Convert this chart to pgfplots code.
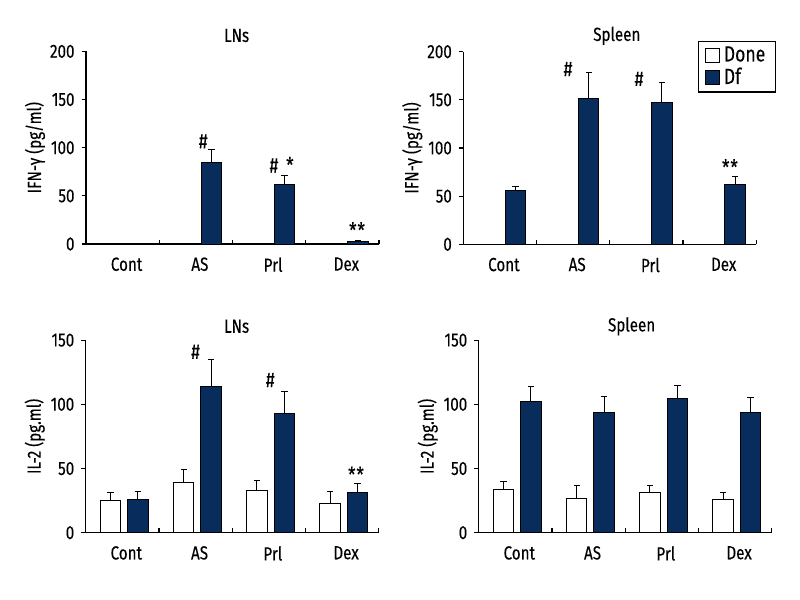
\documentclass[border=0pt]{standalone}
\usepackage{fontspec}
\setmainfont{Fira Sans}[FakeStretch=0.8, FakeBold=0.2]
\usepackage{pgfplots}
\pgfplotsset{compat=1.18}
\definecolor{navy}{RGB}{8,44,92}
\tikzset{ann/.style={font=\fontsize{10.5pt}{11pt}\selectfont}}
\pgfplotsset{
  panel/.style={
    scale only axis, width=146.5pt, height=96.3pt,
    xmin=0, xmax=4, ymin=0,
    axis x line*=bottom, axis y line*=left,
    axis line style={line width=0.6pt, -},
    font=\fontsize{9.5pt}{11pt}\selectfont,
    /pgf/number format/assume math mode=true,
    tick align=outside,
    major tick length=2.2pt,
    every tick/.style={black, line width=0.6pt},
    xtick={0,1,2,3,4},
    x tick label as interval,
    xticklabels={Cont,AS,Prl,Dex},
    xtick style={yshift=2.2pt},
    xticklabel style={yshift=-1pt, xshift=2pt},
    ylabel style={at={(axis description cs:-0.174,0.5)}, anchor=center, rotate=0},
    title style={anchor=center, font=\fontsize{9.5pt}{11pt}\selectfont},
  },
  donebar/.style={ybar, bar width=0.28, bar shift=0, fill=white, draw=black, line width=0.5pt,
    error bars/.cd, y dir=plus, y explicit, error bar style={line width=0.5pt, black},
    error mark options={rotate=90, mark size=1.6pt, line width=0.5pt, black}},
  dfbar/.style={ybar, bar width=0.28, bar shift=0, fill=navy, draw=black, line width=0.5pt,
    error bars/.cd, y dir=plus, y explicit, error bar style={line width=0.5pt, black},
    error mark options={rotate=90, mark size=1.6pt, line width=0.5pt, black}},
}
\begin{document}
\begin{tikzpicture}
\path[use as bounding box] (0,0) rectangle (400pt,-300pt);

% Top-left
\begin{axis}[panel, at={(43pt,-122pt)}, anchor=south west,
  ymax=200, ytick={0,50,100,150,200},
  ylabel={IFN-γ (pg/ml)},
  title={LNs}, title style={at={(axis description cs:0.514,1.02)}}]
\addplot[dfbar] coordinates {(0.712,1) +- (0,0) (1.712,85) +- (0,13) (2.712,62) +- (0,9) (3.712,3) +- (0,0.5)};
\node[ann] at (axis cs:1.60,106.6) {\#};
\node[ann] at (axis cs:2.67,82.3) {\# \,*};
\node[ann] at (axis cs:3.70,14.6) {*\kern0.5pt*};
\end{axis}

% Top-right
\begin{axis}[panel, at={(231.65pt,-122.15pt)}, anchor=south west,
  ymax=200, ytick={0,50,100,150,200},
  ylabel={IFN-γ (pg/ml)},
  title={Spleen}, title style={at={(axis description cs:0.524,1.02)}},
  legend style={at={(axis description cs:1.067,1.057)}, anchor=north east,
    draw=black, line width=0.6pt, font=\fontsize{11pt}{12pt}\selectfont,
    inner xsep=3pt, inner ysep=0.5pt, row sep=-2.5pt, cells={anchor=west}},
  legend image code/.code={\draw[#1, line width=0.5pt] (0pt,-3.5pt) rectangle (7pt,3.5pt);},
  legend entries={Done,Df}]
\addlegendimage{fill=white, draw=black}
\addplot[dfbar] coordinates {(0.712,56) +- (0,4) (1.712,151) +- (0,27) (2.712,147.5) +- (0,20) (3.712,62) +- (0,8)};
\node[ann] at (axis cs:1.43,182) {\#};
\node[ann] at (axis cs:2.40,171.7) {\#};
\node[ann] at (axis cs:3.64,80.3) {*\kern0.5pt*};
\end{axis}

% Bottom-left
\begin{axis}[panel, at={(42.85pt,-266.35pt)}, anchor=south west,
  ymax=150, ytick={0,50,100,150},
  ylabel={IL-2 (pg.ml)},
  title={LNs}, title style={at={(axis description cs:0.515,1.009)}}]
\addplot[donebar] coordinates {(0.338,25) +- (0,6.5) (1.338,39) +- (0,10.5) (2.338,33) +- (0,7.5) (3.338,23) +- (0,9)};
\addplot[dfbar] coordinates {(0.712,26) +- (0,6) (1.712,114) +- (0,21) (2.712,93) +- (0,17) (3.712,31) +- (0,7)};
\node[ann] at (axis cs:1.50,140.9) {\#};
\node[ann] at (axis cs:2.52,118.9) {\#};
\node[ann] at (axis cs:3.69,45.5) {*\kern0.5pt*};
\end{axis}

% Bottom-right
\begin{axis}[panel, at={(239.35pt,-266.35pt)}, anchor=south west,
  ymax=150, ytick={0,50,100,150},
  ylabel={IL-2 (pg.ml)},
  title={Spleen}, title style={at={(axis description cs:0.522,1.009)}}]
\addplot[donebar] coordinates {(0.338,34) +- (0,5.5) (1.338,27) +- (0,10) (2.338,31) +- (0,6) (3.338,26) +- (0,5.5)};
\addplot[dfbar] coordinates {(0.712,102.5) +- (0,11) (1.712,94) +- (0,12) (2.712,104.5) +- (0,10) (3.712,94) +- (0,11)};
\end{axis}
\end{tikzpicture}
\end{document}
